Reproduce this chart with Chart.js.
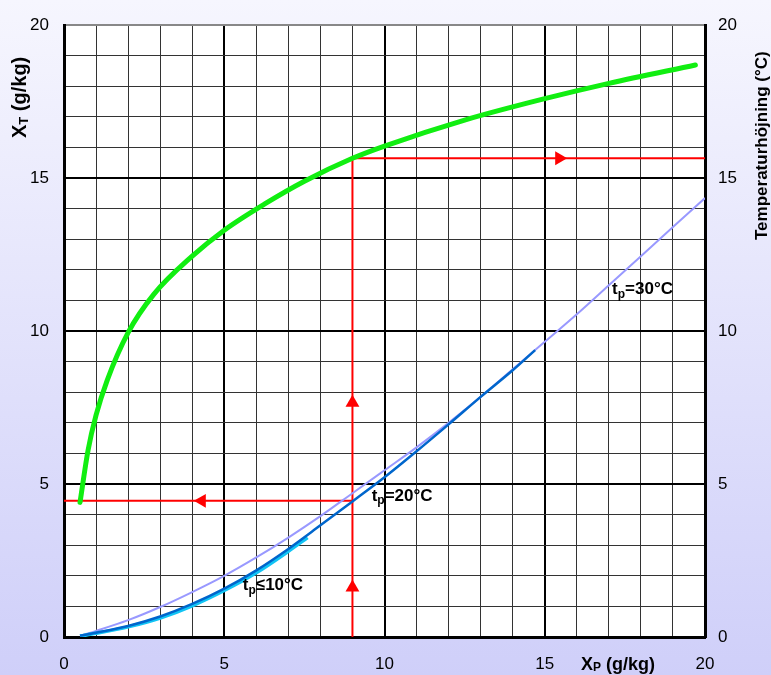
<!DOCTYPE html>
<html>
<head>
<meta charset="utf-8">
<script src="https://cdn.jsdelivr.net/npm/chart.js@4.4.0/dist/chart.umd.min.js"></script>
<style>
  html, body { margin: 0; padding: 0; }
  #wrap { position: relative; width: 771px; height: 675px; }
</style>
</head>
<body>
<div id="wrap"><canvas id="chart"></canvas></div>
<script>
// Temperature rise (right axis, °C) vs X_P
const tempX = [0.5, 0.75, 1, 1.35, 2, 2.8, 4, 5, 6.25, 7.5, 9, 10, 12.5, 15, 17, 19.7];
const tempY = [4.4, 6.1, 7.25, 8.4, 9.95, 11.2, 12.45, 13.3, 14.15, 14.9, 15.65, 16.05, 16.9, 17.6, 18.1, 18.7];

// X_T vs X_P for the different tp
const tp10X = [0.5, 1, 2, 3, 4, 5, 6, 7, 7.6];
const tp10Y = [0.03, 0.12, 0.33, 0.62, 1.02, 1.52, 2.1, 2.8, 3.25];
const tp20X = [0.5, 1, 2, 3, 4, 5, 6, 7, 8, 9, 10, 11, 12, 13, 14, 14.7];
const tp20Y = [0.04, 0.14, 0.36, 0.67, 1.08, 1.58, 2.18, 2.88, 3.65, 4.43, 5.22, 6.07, 6.95, 7.85, 8.72, 9.38];
const tp30X = [0.5, 1, 2, 3, 4, 5, 6, 7, 8, 9, 10, 11, 12, 13, 14, 15, 16, 17, 18, 19, 20];
const tp30Y = [0.04, 0.2, 0.55, 0.98, 1.47, 2.0, 2.6, 3.25, 3.95, 4.7, 5.45, 6.2, 7.0, 7.85, 8.75, 9.65, 10.55, 11.5, 12.45, 13.4, 14.35];

// red reading example lines
const redVertX = [9, 9];
const redVertY = [0, 15.65];
const redTopX = [9, 20];
const redTopY = [15.65, 15.65];
const redLowX = [0, 9];
const redLowY = [4.45, 4.45];
const arrowX = [9, 9, 15.45, 4.3];
const arrowY = [1.62, 7.66, 15.65, 4.45];
const arrowRot = [0, 0, 90, -90];

// curve labels
const labelRest = ['=30°C', '=20°C', '≤10°C'];
const labelX = [17.1, 9.6, 5.58];
const labelY = [11.36, 4.61, 1.69];

const FONT = "'Liberation Sans', Arial, sans-serif";

function pts(xs, ys) {
  return xs.map((x, i) => ({ x: x, y: ys[i] }));
}

// background gradient + white plot area
const bgPlugin = {
  id: 'bg',
  beforeDraw(chart) {
    const ctx = chart.ctx;
    const a = chart.chartArea;
    const g = ctx.createLinearGradient(0, 0, 0, chart.height);
    g.addColorStop(0, '#f6f6fe');
    g.addColorStop(1, '#cfcff9');
    ctx.save();
    ctx.fillStyle = g;
    ctx.fillRect(0, 0, chart.width, chart.height);
    ctx.fillStyle = '#ffffff';
    ctx.fillRect(a.left, a.top, a.right - a.left, a.bottom - a.top);
    ctx.restore();
  }
};

// draws main + subscript + rest, starting at 0,0 in current transform
function subText(ctx, main, sub, rest, size, subSize, drop) {
  ctx.textAlign = 'left';
  ctx.textBaseline = 'middle';
  ctx.font = 'bold ' + size + 'px ' + FONT;
  ctx.fillText(main, 0, 0);
  let w = ctx.measureText(main).width;
  ctx.font = 'bold ' + subSize + 'px ' + FONT;
  ctx.fillText(sub, w, drop);
  w += ctx.measureText(sub).width;
  ctx.font = 'bold ' + size + 'px ' + FONT;
  ctx.fillText(rest, w, 0);
}

const textPlugin = {
  id: 'texts',
  afterDraw(chart) {
    const ctx = chart.ctx;
    const xs = chart.scales.x, ys = chart.scales.y;
    ctx.save();
    ctx.fillStyle = '#000';
    // curve labels
    for (let i = 0; i < labelRest.length; i++) {
      ctx.save();
      ctx.translate(xs.getPixelForValue(labelX[i]), ys.getPixelForValue(labelY[i]));
      subText(ctx, 't', 'p', labelRest[i], 17, 12, 5);
      ctx.restore();
    }
    // left axis title
    ctx.save();
    ctx.translate(20, 138);
    ctx.rotate(-Math.PI / 2);
    subText(ctx, 'X', 'T', ' (g/kg)', 20, 13, 4);
    ctx.restore();
    // right axis title
    ctx.save();
    ctx.translate(762, 240);
    ctx.rotate(-Math.PI / 2);
    ctx.font = 'bold 17px ' + FONT;
    ctx.textAlign = 'left';
    ctx.textBaseline = 'middle';
    ctx.fillText('Temperaturhöjning (°C)', 0, 0);
    ctx.restore();
    // bottom axis title
    ctx.save();
    ctx.translate(581, 665);
    subText(ctx, 'X', 'P', ' (g/kg)', 18, 12, 3);
    ctx.restore();
    ctx.restore();
  }
};

const tickCb = v => (v % 5 === 0 ? v : '');
const tickFont = { family: FONT, size: 17 };

const yGridColor = c => (c.tick.value === 20 ? '#888888' : (c.tick.value % 5 === 0 ? '#000000' : '#333333'));
const gridWidth = c => (c.tick.value % 5 === 0 ? 2 : 1);

new Chart(document.getElementById('chart'), {
  type: 'scatter',
  data: {
    datasets: [
      {
        label: 'tp=30°C', data: pts(tp30X, tp30Y), showLine: true, yAxisID: 'y',
        borderColor: '#9999ff', borderWidth: 2, pointRadius: 0,
        cubicInterpolationMode: 'monotone', order: 3
      },
      {
        label: 'tp≤10°C', data: pts(tp10X, tp10Y), showLine: true, yAxisID: 'y',
        borderColor: '#11c4f4', borderWidth: 3.5, pointRadius: 0,
        cubicInterpolationMode: 'monotone', order: 2
      },
      {
        label: 'tp=20°C', data: pts(tp20X, tp20Y), showLine: true, yAxisID: 'y',
        borderColor: '#0066cc', borderWidth: 2.5, pointRadius: 0,
        cubicInterpolationMode: 'monotone', order: 1
      },
      {
        label: 'Temperaturhöjning', data: pts(tempX, tempY), showLine: true, yAxisID: 'y2',
        borderColor: '#11ee11', borderWidth: 5, pointRadius: 0, borderCapStyle: 'round',
        cubicInterpolationMode: 'monotone', order: 4
      },
      {
        data: pts(redVertX, redVertY), showLine: true, yAxisID: 'y',
        borderColor: '#ff0000', borderWidth: 2, pointRadius: 0, order: 5
      },
      {
        data: pts(redTopX, redTopY), showLine: true, yAxisID: 'y',
        borderColor: '#ff0000', borderWidth: 2, pointRadius: 0, order: 5
      },
      {
        data: pts(redLowX, redLowY), showLine: true, yAxisID: 'y',
        borderColor: '#ff0000', borderWidth: 2, pointRadius: 0, order: 5
      },
      {
        // arrow heads
        data: pts(arrowX, arrowY), showLine: false, yAxisID: 'y',
        pointStyle: 'triangle', pointRadius: 8, pointRotation: arrowRot,
        pointBackgroundColor: '#ff0000', pointBorderWidth: 0, order: 0
      }
    ]
  },
  options: {
    responsive: true,
    maintainAspectRatio: false,
    animation: false,
    layout: { padding: { top: 21, left: 0, right: 0, bottom: 0 } },
    plugins: { legend: { display: false }, tooltip: { enabled: false } },
    scales: {
      x: {
        type: 'linear', min: 0, max: 20,
        afterFit: s => { s.height = 38; },
        ticks: { stepSize: 1, autoSkip: false, callback: tickCb, font: tickFont, color: '#000', padding: 17, maxRotation: 0 },
        grid: { color: c => (c.tick.value % 5 === 0 ? '#000000' : '#333333'), lineWidth: gridWidth, drawTicks: false },
        border: { color: '#000', width: 3 }
      },
      y: {
        type: 'linear', position: 'left', min: 0, max: 20,
        afterFit: s => { s.width = 64; },
        ticks: { stepSize: 1, autoSkip: false, callback: tickCb, font: tickFont, color: '#000', padding: 15 },
        grid: { color: yGridColor, lineWidth: gridWidth, drawTicks: false },
        border: { color: '#000', width: 3 }
      },
      y2: {
        type: 'linear', position: 'right', min: 0, max: 20,
        afterFit: s => { s.width = 66; },
        ticks: { stepSize: 1, autoSkip: false, callback: tickCb, font: tickFont, color: '#000', padding: 13 },
        grid: { display: false, drawTicks: false },
        border: { color: '#000', width: 3 }
      }
    }
  },
  plugins: [bgPlugin, textPlugin]
});
</script>
</body>
</html>
